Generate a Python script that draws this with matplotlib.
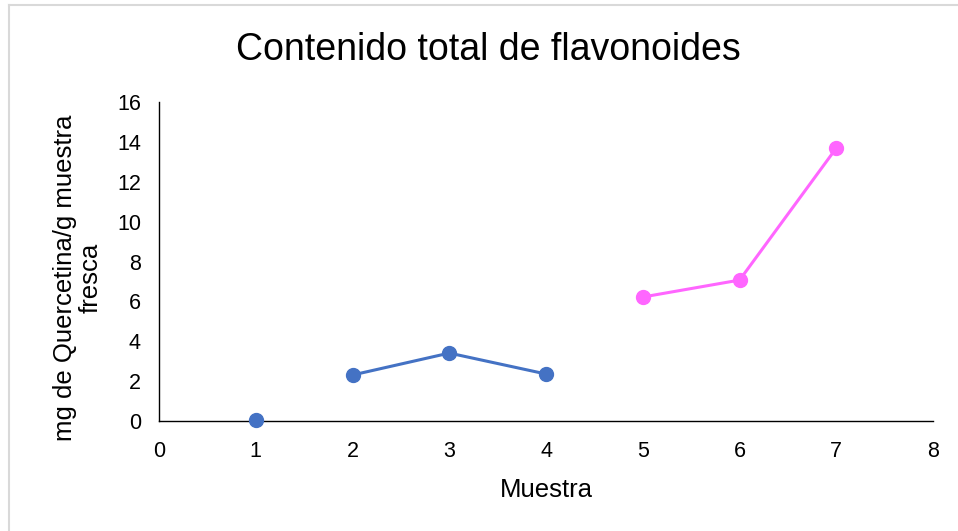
import matplotlib.pyplot as plt
from matplotlib.lines import Line2D

plt.rcParams['font.family'] = ['Liberation Sans', 'DejaVu Sans']

blank_x = [1]
blank_y = [0.05]
grupo_a_x = [2, 3, 4]
grupo_a_y = [2.31, 3.41, 2.36]
grupo_b_x = [5, 6, 7]
grupo_b_y = [6.22, 7.07, 13.69]

x_ticks = [0, 1, 2, 3, 4, 5, 6, 7, 8]
y_ticks = [0, 2, 4, 6, 8, 10, 12, 14, 16]

blue = '#4472C4'
pink = '#FF66FF'

fig = plt.figure(figsize=(9.58, 5.31), dpi=100)
ax = fig.add_axes([0.166, 0.207, 0.808, 0.601])

ax.plot(blank_x, blank_y, 'o', color=blue, markersize=10, clip_on=False, zorder=3)
ax.plot(grupo_a_x, grupo_a_y, '-o', color=blue, linewidth=2.2, markersize=10, zorder=3)
ax.plot(grupo_b_x, grupo_b_y, '-o', color=pink, linewidth=2.2, markersize=10, zorder=3)

ax.set_xlim(0, 8)
ax.set_ylim(0, 16)
ax.set_xticks(x_ticks)
ax.set_yticks(y_ticks)
ax.tick_params(axis='y', length=0, labelsize=15.5, pad=13)
ax.tick_params(axis='x', length=0, labelsize=15.5, pad=14)
for side in ('top', 'right'):
    ax.spines[side].set_visible(False)
for side in ('left', 'bottom'):
    ax.spines[side].set_color('black')
    ax.spines[side].set_linewidth(1)

ax.set_xlabel('Muestra', fontsize=18.5, labelpad=12)
ax.set_ylabel('mg de Quercetina/g muestra\nfresca', fontsize=18.5,
              linespacing=1.1)
ax.yaxis.set_label_coords(-0.073, 0.45)
fig.text(0.51, 0.906, 'Contenido total de flavonoides', ha='center', va='center',
         fontsize=27)

# chart area frame (top and left edges only)
frame = dict(color='#d9d9d9', linewidth=1.5, transform=fig.transFigure)
fig.lines.append(Line2D([0.0095, 1.0], [0.991, 0.991], **frame))
fig.lines.append(Line2D([0.0095, 0.0095], [0.0, 0.991], **frame))

fig.savefig('out.png', dpi=100)
